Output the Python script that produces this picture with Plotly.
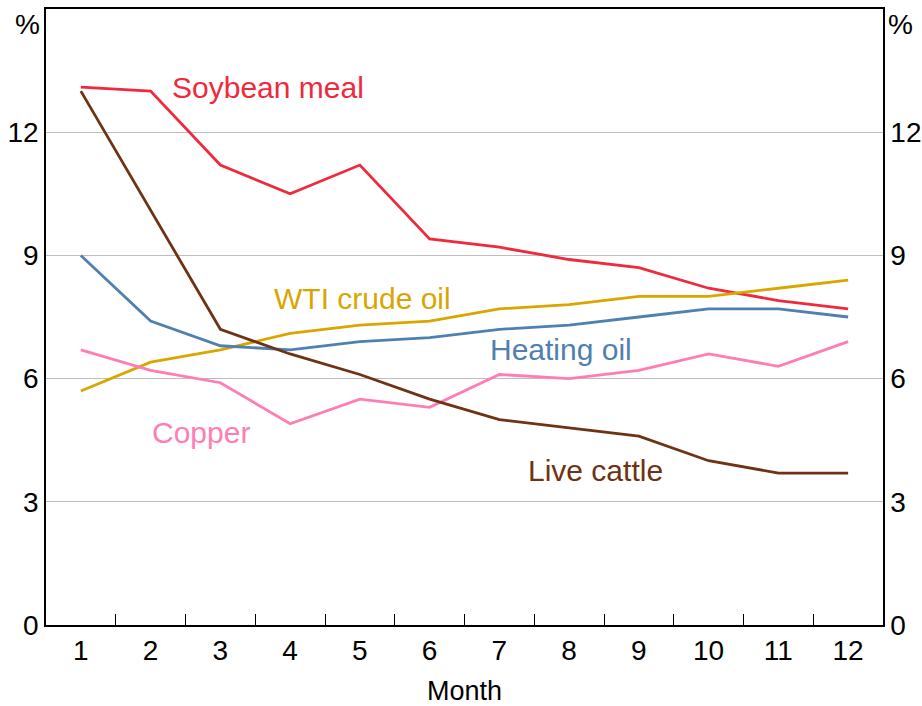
import plotly.graph_objects as go

months = list(range(1, 13))
soybean_meal = [13.1, 13.0, 11.2, 10.5, 11.2, 9.4, 9.2, 8.9, 8.7, 8.2, 7.9, 7.7]
wti_crude_oil = [5.7, 6.4, 6.7, 7.1, 7.3, 7.4, 7.7, 7.8, 8.0, 8.0, 8.2, 8.4]
heating_oil = [9.0, 7.4, 6.8, 6.7, 6.9, 7.0, 7.2, 7.3, 7.5, 7.7, 7.7, 7.5]
copper = [6.7, 6.2, 5.9, 4.9, 5.5, 5.3, 6.1, 6.0, 6.2, 6.6, 6.3, 6.9]
live_cattle = [13.0, 10.1, 7.2, 6.6, 6.1, 5.5, 5.0, 4.8, 4.6, 4.0, 3.7, 3.7]
y_ticks = [0, 3, 6, 9, 12]

series = [
    ("Soybean meal", soybean_meal, "#EE2A3C", 3.68, 13.1),
    ("WTI crude oil", wti_crude_oil, "#D9A600", 5.04, 7.96),
    ("Heating oil", heating_oil, "#4F80B0", 7.89, 6.70),
    ("Copper", copper, "#FF7DB5", 2.72, 4.68),
    ("Live cattle", live_cattle, "#6E3215", 8.38, 3.77),
]

FONT = "Liberation Sans, Arial, sans-serif"
fig = go.Figure()
annotations = []
for name, vals, color, lx, ly in series:
    fig.add_trace(go.Scatter(x=months, y=vals, mode="lines", name=name,
                             line=dict(color=color, width=2.8), showlegend=False))
    annotations.append(dict(x=lx, y=ly, xref="x", yref="y", text=name, showarrow=False,
                            font=dict(family=FONT, size=30, color=color)))

# dummy trace for the right axis
fig.add_trace(go.Scatter(x=[None], y=[None], yaxis="y2", showlegend=False, hoverinfo="skip"))

annotations.append(dict(x=0, y=1, xref="paper", yref="paper", xanchor="right", yanchor="middle",
                        xshift=-4, yshift=-15, text="%", showarrow=False,
                        font=dict(family=FONT, size=28, color="black")))
annotations.append(dict(x=1, y=1, xref="paper", yref="paper", xanchor="left", yanchor="middle",
                        xshift=3, yshift=-15, text="%", showarrow=False,
                        font=dict(family=FONT, size=28, color="black")))

fig.update_layout(
    width=922, height=706,
    margin=dict(l=46, r=39, t=9, b=81),
    plot_bgcolor="white", paper_bgcolor="white",
    font=dict(family=FONT, size=28, color="black"),
    annotations=annotations,
    xaxis=dict(
        range=[0.5, 12.5], tickvals=months, ticktext=[str(m) for m in months],
        ticks="", showgrid=False, zeroline=False, automargin=False,
        showline=True, linecolor="black", linewidth=1.5, mirror=True,
        minor=dict(tickvals=[m + 0.5 for m in months[:-1]], ticks="inside",
                   ticklen=11, tickcolor="black", tickwidth=1.3, showgrid=False),
        title=dict(text="Month", standoff=16, font=dict(size=27)),
        tickfont=dict(size=28),
    ),
    yaxis=dict(
        range=[0, 15], tickvals=y_ticks, ticktext=[str(v) for v in y_ticks],
        showgrid=True, gridcolor="#BDBDBD", gridwidth=1.2, zeroline=False,
        showline=True, linecolor="black", linewidth=1.5, ticks="", automargin=False,
        tickfont=dict(size=28),
    ),
    yaxis2=dict(
        range=[0, 15], overlaying="y", side="right", automargin=False,
        tickvals=y_ticks, ticktext=[str(v) for v in y_ticks],
        showgrid=False, zeroline=False, showline=True, linecolor="black",
        linewidth=1.5, ticks="", tickfont=dict(size=28),
    ),
)

fig.write_html(
    "out.html",
    config={"displayModeBar": False},
    post_script="document.body.style.margin='0px';document.body.style.overflow='hidden';",
)
